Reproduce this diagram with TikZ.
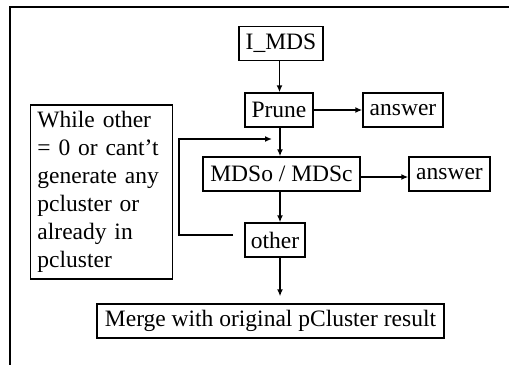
\documentclass[tikz,border=0pt]{standalone}
\usepackage{fontspec}
\setmainfont{Liberation Serif}
\usetikzlibrary{arrows.meta,calc,positioning}

\begin{document}
\begin{tikzpicture}[x=1pt,y=-1pt,line width=1.4pt,
    box/.style={draw,inner xsep=3pt,inner ysep=2pt,minimum height=34pt,
        font=\fontsize{23.5}{28}\selectfont},
    note/.style={draw,inner xsep=7pt,inner ysep=3pt,text width=128pt,align=left,
        font=\fontsize{23.5}{28}\selectfont},
    flow/.style={-{Latex[length=7pt,width=6pt]}}]
    \useasboundingbox (0,0) rectangle (509,365);

    % frame
    \draw (509,7) -- (10,7) -- (10,365);

    \node[box,minimum width=84pt] (imds) at (281,43.5) {I\_MDS};
    \node[box,minimum width=68pt] (prune) at (279,110) {Prune};
    \node[box,minimum width=80pt] (ans1) at (403,110) {answer};
    \node[box,minimum width=157pt] (mds) at (281.5,174) {MDSo / MDSc};
    \node[box,minimum width=81pt] (ans2) at (449.5,174) {answer};
    \node[box,minimum width=60pt] (other) at (275,240) {other};
    \node[box,minimum width=347pt] (merge) at (270.5,321) {Merge with original pCluster result};
    \node[note,minimum height=174pt] (cond) at (101.5,192) {While other = 0 or cant't generate any pcluster or already in pcluster};

    \coordinate (loopstart) at (233,235);
    \coordinate (loopend) at (272,139);

    \draw[flow] (imds.south -| 279.5,0) -- (prune.north -| 279.5,0);
    \draw[flow] (prune) -- (ans1);
    \draw[flow] (prune.south -| 280,0) -- (mds.north -| 280,0);
    \draw[flow] (mds.east |- 0,177) -- (ans2.west |- 0,177);
    \draw[flow] (mds.south -| 280,0) -- (other.north -| 280,0);
    \draw[flow,shorten >=7pt] (other.south -| 280,0) -- (merge.north -| 280,0);
    \draw[flow] (loopstart) -- ++(-54,0) |- (loopend);
\end{tikzpicture}
\end{document}
